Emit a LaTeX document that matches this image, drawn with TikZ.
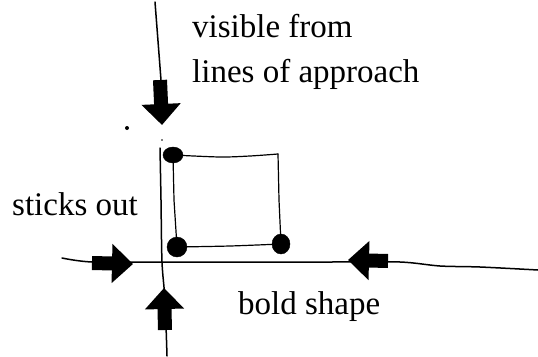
\documentclass[tikz,border=0pt]{standalone}
\usepackage{fontspec}
\setmainfont{Liberation Serif}
\usepackage{tikz}
\usetikzlibrary{arrows.meta}

\begin{document}
\begin{tikzpicture}[x=1pt, y=-1pt,
    line cap=round, line join=round,
    road/.style={line width=1.5pt},
    edge/.style={line width=1.2pt},
    blob/.style={fill=black, draw=black},
    fatarrow/.style={line width=14pt, line cap=butt, -{Triangle[length=21pt 0 0, width=38pt 0 0]}},
    label/.style={anchor=base west, inner sep=0pt, font=\fontsize{33}{38}\selectfont}]
    \useasboundingbox (0,0) rectangle (538,356);

    % lines of approach
    \coordinate (vtop) at (155,2);
    \coordinate (vmid) at (161,80);
    \coordinate (vstart) at (160,148);
    \coordinate (cross) at (162,262);
    \coordinate (vend) at (167,356);
    \coordinate (hstart) at (62,258);
    \coordinate (hend) at (538,270);
    \draw[road] (vtop) -- (vmid);
    \draw[road] plot[smooth] coordinates {(vstart) (161,200) (cross) (165,300) (vend)};
    \draw[road] plot[smooth] coordinates {(hstart) (92,262) (cross) (250,262)
        (330,262) (400,262) (440,266) (480,267) (hend)};

    % bold shape
    \coordinate (tl) at (173,155);
    \coordinate (tr) at (278,154);
    \coordinate (br) at (281,244);
    \coordinate (bl) at (177,247);
    \draw[edge] plot[smooth] coordinates {(tl) (220,157) (250,156) (tr)};
    \draw[edge] (tr) -- (279,200) -- (br);
    \draw[edge] plot[smooth] coordinates {(bl) (230,246) (br)};
    \draw[edge] (tl) -- (174,200) -- (bl);
    \fill[blob] (tl) ellipse [x radius=10pt, y radius=8pt];
    \fill[blob] (bl) ellipse [x radius=10pt, y radius=10pt];
    \fill[blob] (br) ellipse [x radius=9pt, y radius=10pt];
    \fill (127,128) circle [radius=2pt];
    \fill (162,140) circle [radius=0.8pt];

    % arrows
    \coordinate (downtail) at (160,80);
    \coordinate (downtip) at (162,125);
    \coordinate (uptail) at (165,330);
    \coordinate (uptip) at (164,288);
    \coordinate (righttail) at (92,263);
    \coordinate (righttip) at (133,264);
    \coordinate (lefttail) at (388,261);
    \coordinate (lefttip) at (348,260);
    \draw[fatarrow] (downtail) -- (downtip);
    \draw[fatarrow] (uptail) -- (uptip);
    \draw[fatarrow] (righttail) -- (righttip);
    \draw[fatarrow] (lefttail) -- (lefttip);

    \node[label] (visible) at (192,37) {visible from};
    \node[label] (approach) at (192,82) {lines of approach};
    \node[label] (sticks) at (12,215) {sticks out};
    \node[label] (bold) at (238,314) {bold shape};
\end{tikzpicture}
\end{document}
